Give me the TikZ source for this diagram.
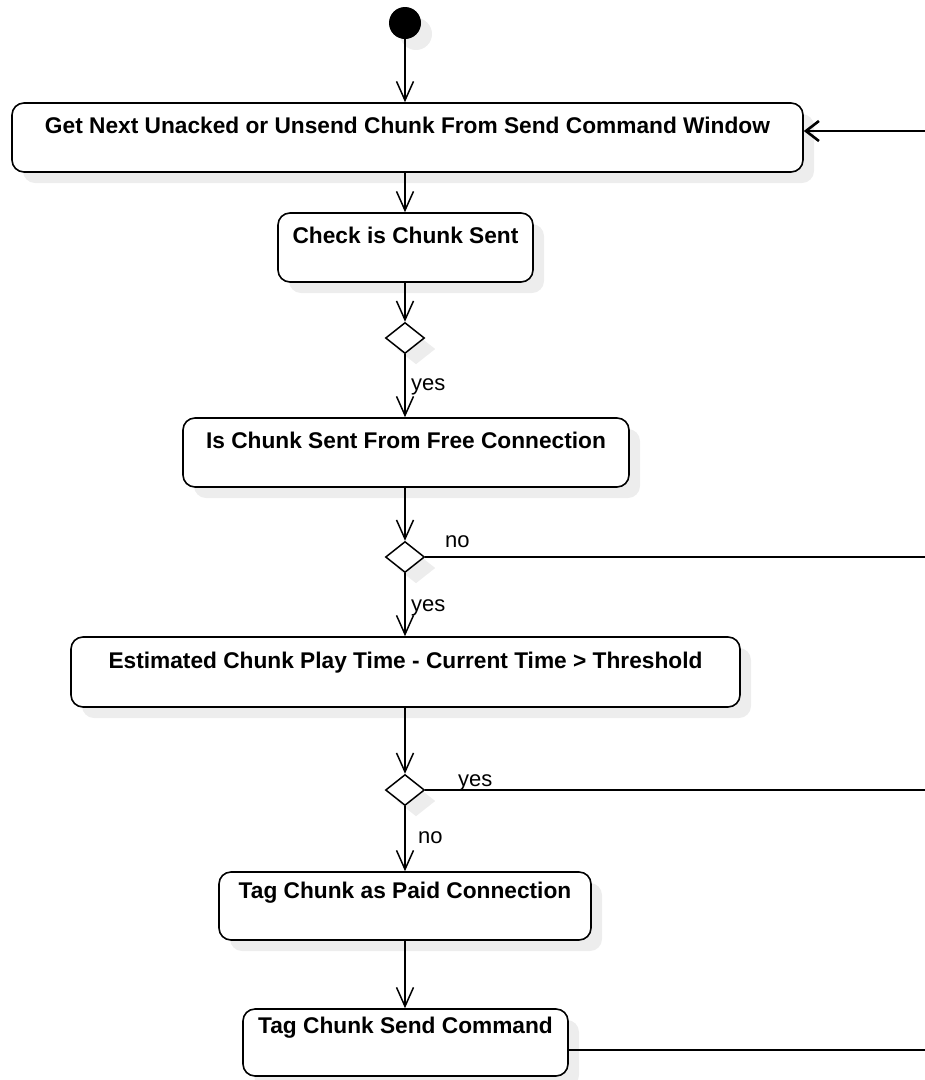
\documentclass[tikz,border=0pt]{standalone}
\usepackage{fontspec}
\setmainfont{Liberation Sans}
\usetikzlibrary{arrows.meta,shapes.geometric,shadows,calc}

\tikzset{
  shade/.style={drop shadow={shadow xshift=11pt,shadow yshift=-11pt,opacity=1,fill=black!7}},
  action/.style={draw=black,line width=1.6pt,rounded corners=12pt,fill=white,shade,inner sep=0pt},
  decide/.style={draw=black,line width=1.5pt,diamond,fill=white,shade,inner sep=0pt,
    minimum width=39pt,minimum height=31pt},
  startdot/.style={circle,fill=black,inner sep=0pt,minimum size=32pt,shade},
  atext/.style={font=\bfseries\fontsize{22.7}{26}\selectfont,anchor=center},
  guard/.style={font=\fontsize{22}{25}\selectfont,anchor=base west,inner sep=0pt},
  flow/.style={line width=1.5pt,-{Straight Barb[length=19pt,width=17pt,line width=1.5pt]}},
  plain/.style={line width=1.5pt},
  back/.style={line width=2.6pt,-{Straight Barb[length=13pt,width=20pt,line width=2.6pt]}}
}

\begin{document}
\begin{tikzpicture}[x=1pt,y=-1pt]
\useasboundingbox (0,0) rectangle (925,1080);

% initial node
\node[startdot] (start) at (405,23) {};

% action boxes, their captions set near the top edge
\node[action,minimum width=791pt,minimum height=69pt] (b1) at (407.5,137.5) {};
\node[atext] (t1) at ($(b1.north)+(0,23)$) {Get Next Unacked or Unsend Chunk From Send Command Window};

\node[action,minimum width=255pt,minimum height=69pt] (b2) at (405.5,247.5) {};
\node[atext] (t2) at ($(b2.north)+(0,23)$) {Check is Chunk Sent};

\node[decide] (d1) at (405,338) {};

\node[action,minimum width=446pt,minimum height=69pt] (b3) at (406,452.5) {};
\node[atext] (t3) at ($(b3.north)+(0,23)$) {Is Chunk Sent From Free Connection};

\node[decide] (d2) at (405,557) {};

\node[action,minimum width=669pt,minimum height=70pt] (b4) at (405.5,672) {};
\node[atext] (t4) at ($(b4.north)+(0,26)$) {Estimated Chunk Play Time - Current Time > Threshold};

\node[decide] (d3) at (405,790) {};

\node[action,minimum width=372pt,minimum height=68pt] (b5) at (405,906) {};
\node[atext] (t5) at ($(b5.north)+(0,21)$) {Tag Chunk as Paid Connection};

\node[action,minimum width=325pt,minimum height=67pt] (b6) at (405.5,1042.5) {};
\node[atext] (t6) at ($(b6.north)+(0,19)$) {Tag Chunk Send Command};

% free ends on the right margin
\coordinate (in1) at (925,131);
\coordinate (out2) at (925,557);
\coordinate (out3) at (925,790);
\coordinate (out6) at (925,1050);

% main flow
\draw[flow] (start.south) -- (start.south |- b1.north);
\draw[flow] (b1.south -| d1) -- (b2.north -| d1);
\draw[flow] (b2.south -| d1) -- (d1.north);
\draw[flow] (d1.south) -- (b3.north -| d1);
\draw[flow] (b3.south -| d2) -- (d2.north);
\draw[flow] (d2.south) -- (b4.north -| d2);
\draw[flow] (b4.south -| d3) -- (d3.north);
\draw[flow] (d3.south) -- (b5.north -| d3);
\draw[flow] (b5.south -| d3) -- (b6.north -| d3);

% branches leaving to the right
\draw[plain] (d2.east) -- (out2);
\draw[plain] (d3.east) -- (out3);
\draw[plain] (b6.east |- out6) -- (out6);
\draw[back] (in1) -- (b1.east |- in1);

% guards
\node[guard] (g1) at (411,390) {yes};
\node[guard] (g2) at (445,547) {no};
\node[guard] (g3) at (411,611) {yes};
\node[guard] (g4) at (458,786) {yes};
\node[guard] (g5) at (418,843) {no};
\end{tikzpicture}
\end{document}
